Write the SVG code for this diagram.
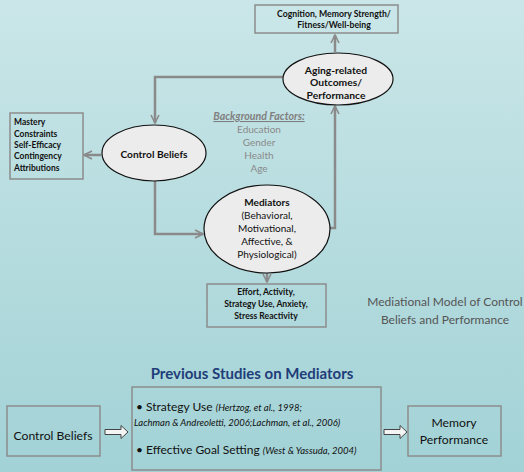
<svg xmlns="http://www.w3.org/2000/svg" width="524" height="472" viewBox="0 0 524 472">
<defs>
<linearGradient id="bg" x1="0" y1="0" x2="0" y2="1">
<stop offset="0" stop-color="#cae6e8"/>
<stop offset="1" stop-color="#a2d2d6"/>
</linearGradient>
<marker id="chev" viewBox="0 0 10 10" refX="9" refY="5" markerWidth="4" markerHeight="4" orient="auto" markerUnits="strokeWidth">
<path d="M1,1 L9,5 L1,9" fill="none" stroke="#8a8a8a" stroke-width="1.6"/>
</marker>
<style>
text{font-family:Lato,"Liberation Sans",sans-serif}
.b{font-weight:bold;fill:#111}
.box{fill:none;stroke:#8c8c8c;stroke-width:1.5}
.ell{fill:#ececec;stroke:#111;stroke-width:1.2}
.con{fill:none;stroke:#8a8a8a;stroke-width:2.5;marker-end:url(#chev)}
.bg{fill:#8a8a8a;font-size:10px}
.hol{fill:#f4f4f4;stroke:#444;stroke-width:1}
.it{font-size:9.5px;font-style:italic}
</style>
</defs>
<rect width="524" height="472" fill="url(#bg)"/>

<g id="connectors">
<path class="con" d="M335,52 V35"/>
<path class="con" d="M283,77 H155 V123"/>
<path class="con" d="M101,155 H84"/>
<path class="con" d="M155,181 V234 H203"/>
<path class="con" d="M330,228 H335 V106"/>
<path class="con" d="M267,273 V282"/>
<path class="hol" d="M105,429.5 H121 V425.5 L128,432 L121,438.5 V434.5 H105 Z"/>
<path class="hol" d="M384,429.5 H400 V425.5 L407,432 L400,438.5 V434.5 H384 Z"/>
</g>

<g id="outcomes-box">
<rect class="box" x="255" y="5" width="143" height="28"/>
<text class="b" x="334" y="17" font-size="8.7" text-anchor="middle">Cognition, Memory Strength/</text>
<text class="b" x="334" y="28" font-size="8.7" text-anchor="middle">Fitness/Well-being</text>
</g>

<g id="aging">
<ellipse class="ell" cx="338" cy="79" rx="55" ry="26"/>
<text class="b" x="336" y="74" font-size="10.3" text-anchor="middle">Aging-related</text>
<text class="b" x="336" y="86" font-size="10.3" text-anchor="middle">Outcomes/</text>
<text class="b" x="336" y="99" font-size="10.3" text-anchor="middle">Performance</text>
</g>

<g id="control-list">
<rect class="box" x="10" y="113" width="73" height="66"/>
<text class="b" x="14" y="125" font-size="8.5">Mastery</text>
<text class="b" x="14" y="137" font-size="8.5">Constraints</text>
<text class="b" x="14" y="148" font-size="8.5">Self-Efficacy</text>
<text class="b" x="14" y="159" font-size="8.5">Contingency</text>
<text class="b" x="14" y="171" font-size="8.5">Attributions</text>
</g>

<g id="control-beliefs">
<ellipse class="ell" cx="154" cy="153" rx="52" ry="28"/>
<text class="b" x="154" y="158" font-size="10.2" text-anchor="middle">Control Beliefs</text>
</g>

<g id="background-factors">
<text x="259" y="120" font-size="10.6" font-weight="bold" font-style="italic" fill="#7f7f7f" text-anchor="middle" text-decoration="underline">Background Factors:</text>
<text class="bg" x="259" y="133" text-anchor="middle">Education</text>
<text class="bg" x="259" y="146" text-anchor="middle">Gender</text>
<text class="bg" x="259" y="159" text-anchor="middle">Health</text>
<text class="bg" x="259" y="172" text-anchor="middle">Age</text>
</g>

<g id="mediators">
<ellipse class="ell" cx="267" cy="229" rx="63" ry="44"/>
<text class="b" x="267" y="206" font-size="10" text-anchor="middle">Mediators</text>
<text x="267" y="219" font-size="10" fill="#111" text-anchor="middle">(Behavioral,</text>
<text x="267" y="232" font-size="10" fill="#111" text-anchor="middle">Motivational,</text>
<text x="267" y="245" font-size="10" fill="#111" text-anchor="middle">Affective, &amp;</text>
<text x="267" y="258" font-size="10" fill="#111" text-anchor="middle">Physiological)</text>
</g>

<g id="mediator-list">
<rect class="box" x="207" y="284" width="119" height="43"/>
<text class="b" x="266" y="295" font-size="8.6" text-anchor="middle">Effort, Activity,</text>
<text class="b" x="266" y="307" font-size="8.6" text-anchor="middle">Strategy Use, Anxiety,</text>
<text class="b" x="266" y="319" font-size="8.6" text-anchor="middle">Stress Reactivity</text>
</g>

<g id="caption">
<text x="445" y="306" font-size="12" fill="#555" text-anchor="middle">Mediational Model of Control</text>
<text x="445" y="324" font-size="12" fill="#555" text-anchor="middle">Beliefs and Performance</text>
</g>

<g id="title">
<text x="252" y="379" font-size="15" font-weight="bold" fill="#1f3d78" text-anchor="middle">Previous Studies on Mediators</text>
</g>

<g id="cb-box">
<rect class="box" x="7" y="406" width="93" height="50"/>
<text x="53" y="440" font-size="12.2" fill="#111" text-anchor="middle">Control Beliefs</text>
</g>

<g id="studies-box">
<rect class="box" x="132" y="387" width="249" height="83"/>
<text x="136" y="411" font-size="12" fill="#111">• Strategy Use <tspan class="it">(Hertzog, et al., 1998;</tspan></text>
<text class="it" x="134" y="426" fill="#111">Lachman &amp; Andreoletti, 2006;Lachman, et al., 2006)</text>
<text x="136" y="454" font-size="12" fill="#111">• Effective Goal Setting <tspan class="it">(West &amp; Yassuda, 2004)</tspan></text>
</g>

<g id="memory-box">
<rect class="box" x="408" y="406" width="93" height="50"/>
<text x="454" y="427" font-size="12.2" fill="#111" text-anchor="middle">Memory</text>
<text x="454" y="444" font-size="12.2" fill="#111" text-anchor="middle">Performance</text>
</g>
</svg>
